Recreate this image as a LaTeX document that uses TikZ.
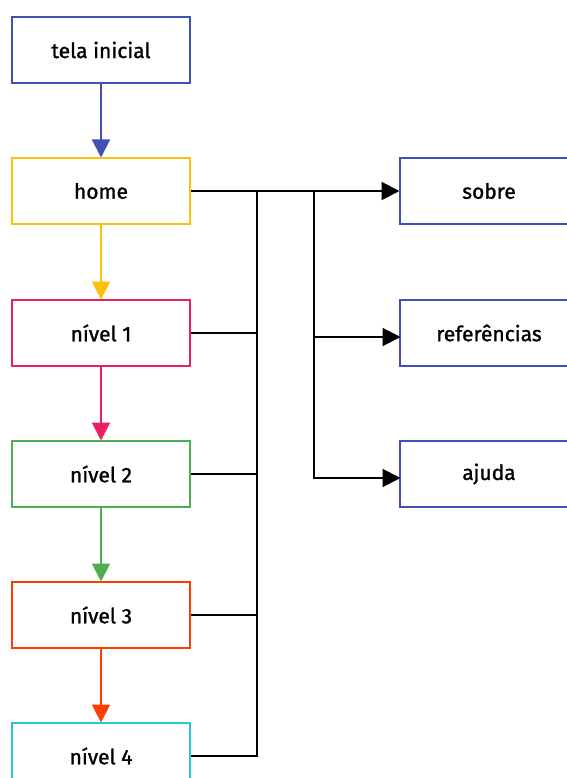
\documentclass[tikz,border=0pt]{standalone}
\usepackage{fontspec}
\setmainfont{Fira Sans}
\newfontfamily\rotulo{Fira Sans}[BoldFont={Fira Sans}, BoldFeatures={FakeBold=1.2}]
\usetikzlibrary{arrows.meta}
\definecolor{azul}{HTML}{3F51B5}
\definecolor{amarelo}{HTML}{FFC107}
\definecolor{rosa}{HTML}{E91E63}
\definecolor{verde}{HTML}{4CAF50}
\definecolor{laranja}{HTML}{FF3D00}
\definecolor{ciano}{HTML}{26C6DA}

\begin{document}
\begin{tikzpicture}[x=1pt, y=-1pt, line width=2pt, >={Triangle[length=18pt,width=18pt]},
  tela/.style={draw, minimum width=178pt, minimum height=66pt, fill=white, font=\rotulo\bfseries\fontsize{21}{25}\selectfont},
  liga/.style={->, shorten >=-0.5pt}]

\useasboundingbox (0,0) rectangle (566,778);
%coluna da esquerda
\node [tela, draw=azul] (inicial) at (101,50) {tela inicial};
\node [tela, draw=amarelo] (home) at (101,191) {home};
\node [tela, draw=rosa] (nivel1) at (101,333) {nível 1};
\node [tela, draw=verde] (nivel2) at (101,474) {nível 2};
\node [tela, draw=laranja] (nivel3) at (101,615) {nível 3};
\node [tela, draw=ciano] (nivel4) at (101,756) {nível 4};
%coluna da direita
\node [tela, draw=azul] (sobre) at (489,191) {sobre};
\node [tela, draw=azul] (refs) at (489,333) {referências};
\node [tela, draw=azul] (ajuda) at (489,474) {ajuda};

%setas entre niveis
\draw [liga, azul] (inicial) -- (home);
\draw [liga, amarelo] (home) -- (nivel1);
\draw [liga, rosa] (nivel1) -- (nivel2);
\draw [liga, verde] (nivel2) -- (nivel3);
\draw [liga, laranja] (nivel3) -- (nivel4);

%linhas pretas
\coordinate (tronco) at (257,191);
\coordinate (ramo) at (314,191);
\coordinate (refsin) at (400,337);
\coordinate (ajudain) at (400,478);
\draw [liga] (home.east) -- (sobre.west);
\draw (tronco) |- (nivel4.east);
\draw (nivel1.east) -- (nivel1.east -| tronco);
\draw (nivel2.east) -- (nivel2.east -| tronco);
\draw (nivel3.east) -- (nivel3.east -| tronco);
\draw [liga] (ramo) |- (ajudain);
\draw [liga] (refsin -| ramo) -- (refsin);

\end{tikzpicture}
\end{document}
